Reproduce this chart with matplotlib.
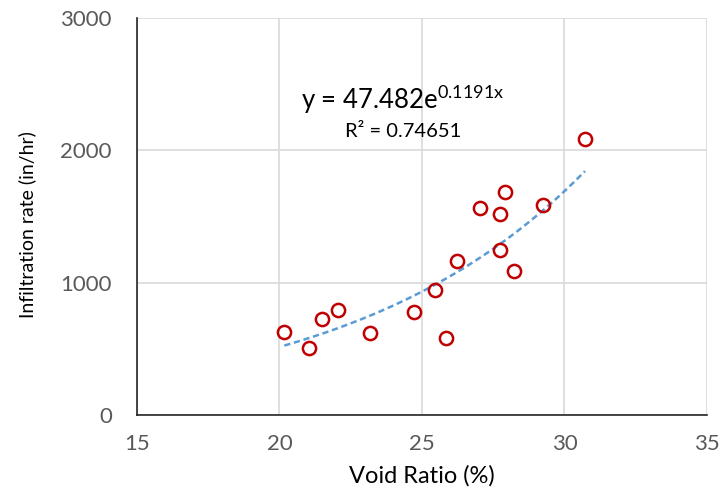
import numpy as np
import matplotlib
matplotlib.use("Agg")
import matplotlib.pyplot as plt

plt.rcParams['font.family'] = ['Lato', 'DejaVu Sans']

void_ratio = [20.17, 21.05, 21.48, 22.05, 23.16, 24.73, 25.45, 25.85,
              26.24, 27.03, 27.73, 27.92, 27.73, 28.22, 29.24, 30.72]
infiltration = [625, 509, 725, 795, 622, 776, 947, 582,
                1166, 1562, 1519, 1683, 1250, 1091, 1590, 2084]

fit_a = 47.482
fit_b = 0.1191
r_squared = 0.74651

x_ticks = [15, 20, 25, 30, 35]
y_ticks = [0, 1000, 2000, 3000]

fig = plt.figure(figsize=(7.19, 4.97), dpi=100)
ax = fig.add_axes([0.1905, 0.165, 0.7928, 0.7988])

ax.set_xlim(15, 35)
ax.set_ylim(0, 3000)
ax.set_xticks(x_ticks)
ax.set_yticks(y_ticks)
ax.grid(True, color='#D9D9D9', linewidth=1.2)
ax.set_axisbelow(True)

for s in ['top', 'right']:
    ax.spines[s].set_visible(False)
for s in ['left', 'bottom']:
    ax.spines[s].set_color('#262626')
    ax.spines[s].set_linewidth(1.2)

ax.tick_params(length=0, labelsize=16, labelcolor='#595959')
ax.tick_params(axis='y', pad=18)
ax.tick_params(axis='x', pad=14)

# exponential trendline over the data range
xs = np.linspace(min(void_ratio), max(void_ratio), 200)
ax.plot(xs, fit_a * np.exp(fit_b * xs), linestyle=(0, (2.5, 1.5)),
        color='#5B9BD5', linewidth=1.8, zorder=2)

ax.plot(void_ratio, infiltration, linestyle='none', marker='o',
        markersize=9.5, markerfacecolor='none', markeredgecolor='#C00000',
        markeredgewidth=1.8, zorder=3)

ax.text(24.32, 2385, r'y = 47.482e$^{\mathregular{0.1191x}}$', fontsize=18.5,
        ha='center', va='center', color='black')
ax.text(24.35, 2140, f'R² = {r_squared}', fontsize=14.5,
        ha='center', va='center', color='black')

ax.set_xlabel('Void Ratio (%)', fontsize=17, labelpad=8)
ax.set_ylabel('Infiltration rate (in/hr)', fontsize=14)
ax.yaxis.set_label_coords(-0.176, 0.479)

fig.savefig('out.png', dpi=100)
